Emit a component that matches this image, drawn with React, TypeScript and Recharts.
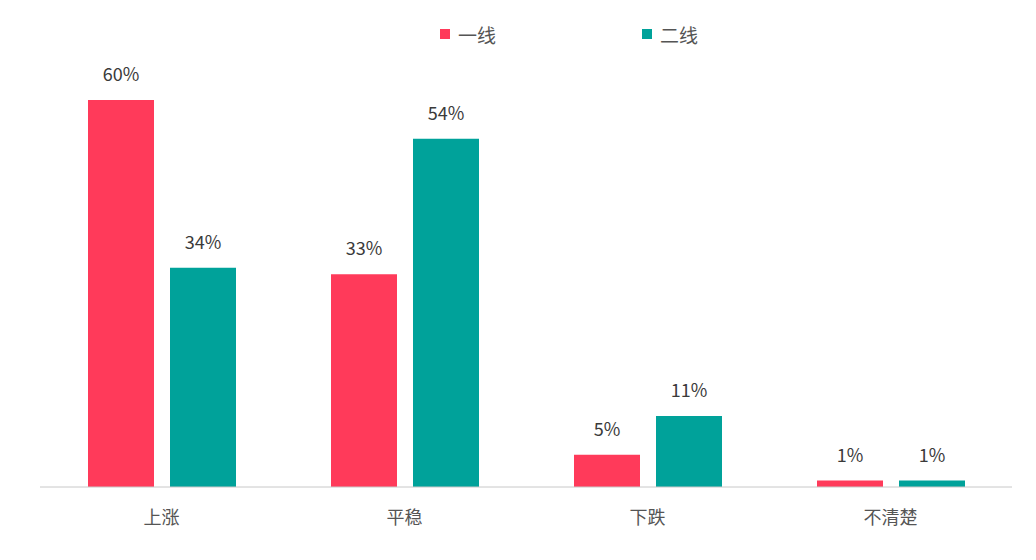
import { BarChart, Bar, XAxis, YAxis, Legend, LabelList } from "recharts"

const categories = ["上涨", "平稳", "下跌", "不清楚"]
const tier1 = [60, 33, 5, 1]
const tier2 = [34, 54, 11, 1]

const seriesNames = ["一线", "二线"]
const colors = ["#FF3A5A", "#00A29A"]

const data = categories.map((name, i) => ({
  name,
  tier1: tier1[i],
  tier2: tier2[i],
}))

const font = "'Noto Sans CJK SC', 'Noto Sans', sans-serif"

function LegendContent() {
  return (
    <div style={{ display: "flex", height: 30, alignItems: "center", fontFamily: font }}>
      {seriesNames.map((n, i) => (
        <div
          key={n}
          style={{ display: "flex", alignItems: "center", width: i === 0 ? 202 : "auto" }}
        >
          <span style={{ width: 10, height: 10, background: colors[i], display: "inline-block" }} />
          <span style={{ marginLeft: 8, fontSize: 19, color: "#555" }}>{n}</span>
        </div>
      ))}
    </div>
  )
}

export default function App() {
  return (
    <div style={{ position: "absolute", left: 0, top: 0, width: 1036, height: 560, background: "#fff" }}>
      <BarChart
        width={1036}
        height={560}
        data={data}
        margin={{ top: 70, right: 24, bottom: 0, left: 40 }}
        barSize={66}
        barGap={16}
      >
        <XAxis
          dataKey="name"
          height={73}
          tickLine={false}
          axisLine={{ stroke: "#c8c8c8" }}
          tickMargin={18}
          tick={{ fontSize: 18, fill: "#555", fontFamily: font }}
        />
        <YAxis hide domain={[0, 60]} />
        <Legend
          verticalAlign="top"
          content={<LegendContent />}
          wrapperStyle={{ top: 19, left: 440, width: "auto" }}
        />
        <Bar dataKey="tier1" fill={colors[0]} isAnimationActive={false}>
          <LabelList
            dataKey="tier1"
            position="top"
            offset={19}
            formatter={(v: number) => `${v}%`}
            style={{ fontSize: 18, fill: "#3a3a3a", fontFamily: font }}
          />
        </Bar>
        <Bar dataKey="tier2" fill={colors[1]} isAnimationActive={false}>
          <LabelList
            dataKey="tier2"
            position="top"
            offset={19}
            formatter={(v: number) => `${v}%`}
            style={{ fontSize: 18, fill: "#3a3a3a", fontFamily: font }}
          />
        </Bar>
      </BarChart>
    </div>
  )
}
